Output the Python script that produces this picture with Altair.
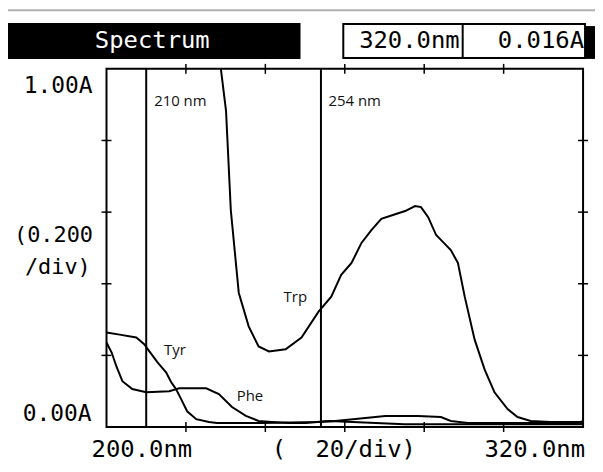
import altair as alt
import pandas as pd

# ---- data ----
trp_nm = [227.8, 228.8, 230.1, 231.3, 233.3, 235.8, 238.3, 240.9, 245.1, 249.1, 253.4,
          256.6, 259.1, 261.7, 264.2, 266.7, 269.2, 272.7, 275.2, 277.7, 279.2, 281.0,
          283.0, 284.7, 286.7, 288.5, 290.2, 292.7, 295.2, 297.7, 301.0, 303.5, 306.8,
          311.8, 319.3, 320.0]
trp_abs = [1.10, 1.000, 0.883, 0.606, 0.375, 0.281, 0.225, 0.211, 0.217, 0.250, 0.322,
           0.364, 0.425, 0.458, 0.514, 0.550, 0.581, 0.594, 0.603, 0.617, 0.614, 0.586,
           0.536, 0.517, 0.494, 0.458, 0.364, 0.244, 0.161, 0.097, 0.050, 0.028, 0.017,
           0.014, 0.014, 0.016]

tyr_nm = [200.0, 203.3, 207.5, 209.5, 210.8, 212.8, 215.0, 216.3, 217.5, 218.8, 220.3,
          222.6, 225.8, 227.8, 239.1, 253.4, 257.6, 265.2, 270.2, 278.4, 284.2, 286.7,
          291.0, 320.0]
tyr_abs = [0.264, 0.258, 0.250, 0.231, 0.211, 0.181, 0.153, 0.125, 0.106, 0.078, 0.044,
           0.022, 0.014, 0.011, 0.011, 0.014, 0.017, 0.025, 0.031, 0.031, 0.028, 0.017,
           0.011, 0.011]

phe_nm = [200.0, 201.3, 202.5, 204.0, 206.5, 210.0, 215.8, 218.3, 225.1, 228.3, 231.6,
          235.1, 238.3, 241.6, 245.9, 250.0, 256.0, 262.0, 275.0, 320.0]
phe_abs = [0.236, 0.208, 0.169, 0.128, 0.106, 0.097, 0.100, 0.108, 0.108, 0.092, 0.056,
           0.031, 0.017, 0.014, 0.011, 0.011, 0.017, 0.014, 0.008, 0.008]

marker_nm = [210, 254]
marker_labels = ["210 nm", "254 nm"]
marker_label_abs = [0.911, 0.911]
marker_label_nm = [212.0, 255.9]

curve_names = ["Trp", "Tyr", "Phe"]
curve_label_nm = [244.6, 214.5, 232.8]
curve_label_abs = [0.364, 0.214, 0.086]

x_ticks = [220, 240, 260, 280, 300]
y_ticks = [0.2, 0.4, 0.6, 0.8]

# ---- tables ----
rows = []
for name, xs, ys in [("Trp", trp_nm, trp_abs), ("Tyr", tyr_nm, tyr_abs), ("Phe", phe_nm, phe_abs)]:
    for i, (a, b) in enumerate(zip(xs, ys)):
        rows.append({"curve": name, "nm": a, "A": b, "order": i})
curves_df = pd.DataFrame(rows)
markers_df = pd.DataFrame({"nm": marker_nm, "label": marker_labels,
                           "lnm": marker_label_nm, "lA": marker_label_abs})
names_df = pd.DataFrame({"name": curve_names, "nm": curve_label_nm, "A": curve_label_abs})
xt_df = pd.DataFrame({"nm": x_ticks})
yt_df = pd.DataFrame({"A": y_ticks})

xs = alt.Scale(domain=[200, 320], nice=False, zero=False)
ys = alt.Scale(domain=[0, 1], nice=False, zero=False)
X = lambda f: alt.X(f, type="quantitative", scale=xs, axis=None)
Y = lambda f: alt.Y(f, type="quantitative", scale=ys, axis=None)

one = alt.Data(values=[{}])
LCD = "DejaVu Sans Mono"

curves = alt.Chart(curves_df).mark_line(color="black", strokeWidth=2, clip=True).encode(
    x=X("nm"), y=Y("A"), detail="curve:N", order="order:Q")

vlines = alt.Chart(markers_df).mark_rule(color="black", strokeWidth=2).encode(x=X("nm"))
vlabels = alt.Chart(markers_df).mark_text(font="Open Sans", fontSize=15, align="left",
                                          baseline="middle", color="#111").encode(
    x=X("lnm"), y=Y("lA"), text="label:N")
clabels = alt.Chart(names_df).mark_text(font="Open Sans", fontSize=15, align="left",
                                        baseline="middle", color="#111").encode(
    x=X("nm"), y=Y("A"), text="name:N")

tick_style = dict(color="black", strokeWidth=1.5)
top_ticks = alt.Chart(xt_df).mark_rule(**tick_style).encode(
    x=X("nm"), y=alt.value(-5), y2=alt.value(5))
bot_ticks = alt.Chart(xt_df).mark_rule(**tick_style).encode(
    x=X("nm"), y=alt.value(355), y2=alt.value(365))
left_ticks = alt.Chart(yt_df).mark_rule(**tick_style).encode(
    y=Y("A"), x=alt.value(-5), x2=alt.value(5))
right_ticks = alt.Chart(yt_df).mark_rule(**tick_style).encode(
    y=Y("A"), x=alt.value(474), x2=alt.value(484))


def txt(s, x, y, align="left", size=24, color="black", font=LCD):
    return alt.Chart(one).mark_text(font=font, fontSize=size, align=align,
                                    baseline="middle", color=color).encode(
        x=alt.value(x), y=alt.value(y), text=alt.value(s))


topline = alt.Chart(one).mark_rule(color="#b0b0b0", strokeWidth=2).encode(
    x=alt.value(-99), x2=alt.value(495), y=alt.value(-59))
bar = alt.Chart(one).mark_rect(color="black").encode(
    x=alt.value(-99), x2=alt.value(195), y=alt.value(-46), y2=alt.value(-10))
box = alt.Chart(one).mark_rect(fill="white", stroke="black", strokeWidth=2).encode(
    x=alt.value(238), x2=alt.value(481), y=alt.value(-45), y2=alt.value(-11))
divider = alt.Chart(one).mark_rule(color="black", strokeWidth=2).encode(
    x=alt.value(358), y=alt.value(-45), y2=alt.value(-11))
icon = alt.Chart(one).mark_rect(color="black").encode(
    x=alt.value(481), x2=alt.value(493), y=alt.value(-43), y2=alt.value(-10))

texts = [
    txt("Spectrum", 46, -28, align="center", color="white"),
    txt("320.0nm", 355, -28, align="right"),
    txt("0.016A", 480, -28, align="right"),
    txt("1.00A", -14, 17, align="right", size=23),
    txt("(0.200", -93, 167, size=22),
    txt("/div)", -82, 199, size=22),
    txt("0.00A", -15, 347, align="right", size=23),
    txt("200.0nm", -15, 383),
    txt("(", 166, 383),
    txt("20/div)", 210, 383),
    txt("320.0nm", 481, 383, align="right"),
]

chart = alt.layer(
    topline, bar, box, divider, icon,
    vlines, curves, top_ticks, bot_ticks, left_ticks, right_ticks,
    vlabels, clabels, *texts
).properties(
    width=479, height=360, autosize="none",
    padding={"left": 99, "top": 60, "right": 12, "bottom": 36},
    background="white"
).configure_view(stroke="black", strokeWidth=2)

chart.save("out.html", embed_options={"renderer": "svg", "actions": False})
